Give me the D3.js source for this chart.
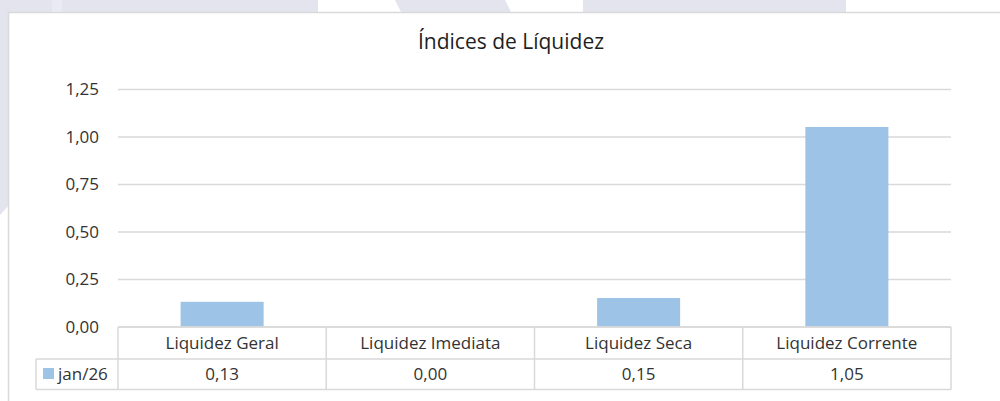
<!DOCTYPE html>
<html><head><meta charset="utf-8">
<script src="https://cdn.jsdelivr.net/npm/d3@7"></script>
<style>
html,body{margin:0;padding:0;background:#fff;}
svg{display:block;}
text{font-family:"Open Sans",Lato,sans-serif;}
</style></head>
<body>
<svg id="chart" width="1000" height="401"></svg>
<script>
const title = "Índices de Líquidez";
const categories = ["Liquidez Geral", "Liquidez Imediata", "Liquidez Seca", "Liquidez Corrente"];
const seriesName = "jan/26";
const values = [0.13, 0.00, 0.15, 1.05];
const yTicks = [0, 0.25, 0.5, 0.75, 1.0, 1.25];

(function(){
const loc = d3.formatLocale({decimal: ",", thousands: ".", grouping: [3], currency: ["R$", ""]});
const fmt = loc.format(".2f");

const svg = d3.select("#chart");
const W = 1000, H = 401;
const lav = "#e3e4ee";
const FS = 17;
const txt = "#333333";

// background decoration
svg.append("rect").attr("x",0).attr("y",0).attr("width",W).attr("height",H).attr("fill","#fff");
svg.append("rect").attr("x",0).attr("y",0).attr("width",318).attr("height",14).attr("fill",lav);
svg.append("rect").attr("x",52).attr("y",0).attr("width",10).attr("height",14).attr("fill","#eaebf2");
svg.append("path").attr("d","M395,0 L505,0 L512,14 L402,14 Z").attr("fill",lav);
svg.append("rect").attr("x",583).attr("y",0).attr("width",263).attr("height",14).attr("fill",lav);
svg.append("path").attr("d","M0,0 L9,0 L9,205 L0,215 Z").attr("fill",lav);

// chart frame
svg.append("rect").attr("x",8.5).attr("y",12.5).attr("width",1000).attr("height",400)
  .attr("fill","#fff").attr("stroke","#d9d9d9").attr("stroke-width",1.5);

const pLeft = 118, pRight = 951, pTop = 89, pBottom = 326.5;
const x = d3.scaleBand().domain(categories).range([pLeft, pRight]).paddingInner(0).paddingOuter(0);
const y = d3.scaleLinear().domain([0, 1.25]).range([pBottom, pTop]);

// title
svg.append("text").attr("x", 511).attr("y", 49).attr("text-anchor","middle")
  .attr("font-size", 21).attr("fill","#1f1f1f").text(title);

// gridlines
const yAxis = d3.axisLeft(y).tickValues(yTicks).tickSize(-(pRight-pLeft)).tickFormat(fmt).tickPadding(19);
const gy = svg.append("g").attr("transform",`translate(${pLeft},0)`).call(yAxis);
gy.select(".domain").remove();
gy.selectAll(".tick line").attr("stroke","#d9d9d9").attr("stroke-width",1.5);
gy.selectAll(".tick text").attr("font-size",FS).attr("fill",txt).attr("font-family","'Open Sans',Lato,sans-serif").attr("dy","0.35em");

// bars
const bw = 83;
svg.append("g").selectAll("rect").data(values).join("rect")
  .attr("x",(d,i)=>x(categories[i]) + x.bandwidth()/2 - bw/2)
  .attr("width", bw)
  .attr("y", d=>y(d))
  .attr("height", d=>y(0)-y(d))
  .attr("fill","#9dc3e6");

// data table
const rowTop = 327, rowMid = 359, rowBot = 389.5, legLeft = 36;
const tg = svg.append("g").attr("fill","none").attr("stroke","#d9d9d9").attr("stroke-width",1.5);
tg.append("line").attr("x1",pLeft).attr("x2",pRight).attr("y1",rowTop).attr("y2",rowTop);
tg.append("line").attr("x1",legLeft).attr("x2",pRight).attr("y1",rowMid).attr("y2",rowMid);
tg.append("line").attr("x1",legLeft).attr("x2",pRight).attr("y1",rowBot).attr("y2",rowBot);
tg.append("line").attr("x1",legLeft).attr("x2",legLeft).attr("y1",rowMid).attr("y2",rowBot);
const edges = categories.map(c=>x(c)).concat([pRight]);
tg.selectAll("line.v").data(edges).join("line").attr("class","v")
  .attr("x1",d=>d).attr("x2",d=>d).attr("y1",rowTop).attr("y2",rowBot);

svg.append("g").selectAll("text").data(categories).join("text")
  .attr("x",d=>x(d)+x.bandwidth()/2).attr("y",(rowTop+rowMid)/2).attr("dy","0.35em")
  .attr("text-anchor","middle").attr("font-size",FS).attr("fill",txt).text(d=>d);
svg.append("g").selectAll("text").data(values).join("text")
  .attr("x",(d,i)=>x(categories[i])+x.bandwidth()/2).attr("y",(rowMid+rowBot)/2).attr("dy","0.35em")
  .attr("text-anchor","middle").attr("font-size",FS).attr("fill",txt).text(d=>fmt(d));

// legend key
svg.append("rect").attr("x",43).attr("y",368).attr("width",11).attr("height",11).attr("fill","#9dc3e6");
svg.append("text").attr("x",58).attr("y",(rowMid+rowBot)/2).attr("dy","0.35em")
  .attr("font-size",FS).attr("fill",txt).text(seriesName);
})();
</script>
</body></html>
